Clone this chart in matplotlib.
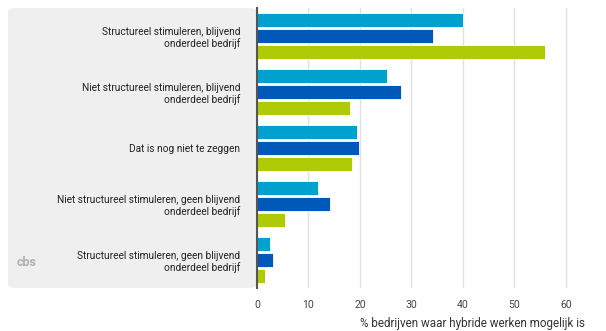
import matplotlib
matplotlib.use("Agg")
import matplotlib.pyplot as plt
from matplotlib.patches import FancyBboxPatch
import numpy as np

plt.rcParams['font.family'] = ['Roboto', 'DejaVu Sans']

categories = ["Structureel stimuleren, blijvend\nonderdeel bedrijf",
              "Niet structureel stimuleren, blijvend\nonderdeel bedrijf",
              "Dat is nog niet te zeggen",
              "Niet structureel stimuleren, geen blijvend\nonderdeel bedrijf",
              "Structureel stimuleren, geen blijvend\nonderdeel bedrijf"]
serie_1 = [40.0, 25.2, 19.5, 11.8, 2.6]
serie_2 = [34.2, 28.0, 19.9, 14.1, 3.2]
serie_3 = [55.9, 18.1, 18.4, 5.5, 1.5]
kleuren = ["#00a1cd", "#0058b8", "#afcb05"]
xticks = [0, 10, 20, 30, 40, 50, 60]

fig = plt.figure(figsize=(6.06, 3.31), dpi=100)

# grijs paneel achter de labels
paneel = FancyBboxPatch((8/606, 1-288/331), (257-8)/606, 280/331,
                        boxstyle="round,pad=0,rounding_size=0.012",
                        transform=fig.transFigure, facecolor="#efefef",
                        edgecolor="none", zorder=-1)
fig.patches.append(paneel)

# cbs-logo (ruw)
fig.text(27/606, 1-262/331, "cbs", ha="center", va="center", fontsize=9,
         color="#b0b0b0", fontweight="bold")

ax = fig.add_axes([257/606, 1-288/331, (590-257)/606, 280/331])
ax.set_facecolor("none")
ax.set_zorder(2)

y = np.arange(len(categories))
h = 0.25
for i, (vals, c) in enumerate(zip([serie_1, serie_2, serie_3], kleuren)):
    ax.barh(y + (i-1)*0.277, vals, height=h, color=c, edgecolor="white",
            linewidth=0.6, zorder=3)

ax.set_ylim(len(categories)-0.5, -0.5)
ax.set_xlim(0, 64.7)
ax.set_yticks(y)
ax.set_yticklabels(categories, fontsize=7.3, color="#222222", ha="right",
                   linespacing=1.2)
ax.tick_params(axis='y', length=0, pad=12)
ax.set_xticks(xticks)
ax.set_xticklabels([str(t) for t in xticks], fontsize=7.5, color="#444444")
ax.tick_params(axis='x', length=0, pad=9)
ax.grid(axis='x', color="#e0e0e0", linewidth=1, zorder=0)

for s in ["top", "right", "bottom"]:
    ax.spines[s].set_visible(False)
ax.spines["left"].set_color("#555555")
ax.spines["left"].set_linewidth(1.5)
ax.spines["left"].set_zorder(5)

fig.text(585/606, 1-323/331, "% bedrijven waar hybride werken mogelijk is",
         ha="right", va="center", fontsize=8.4, color="#333333")

fig.savefig("out.png", dpi=100)
